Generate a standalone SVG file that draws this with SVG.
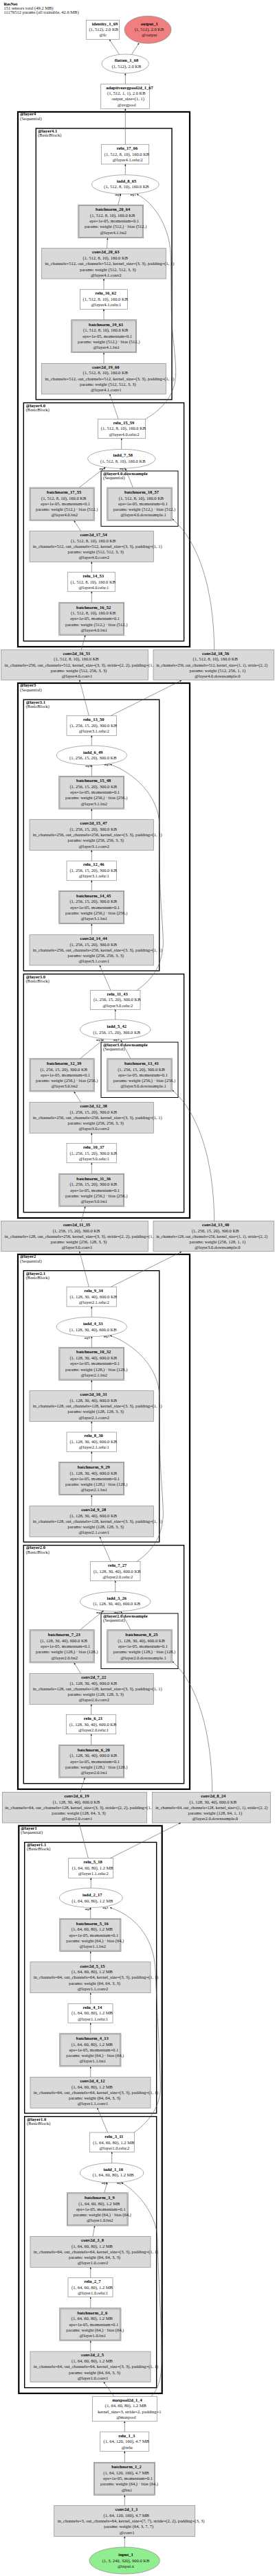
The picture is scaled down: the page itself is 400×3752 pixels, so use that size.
<svg xmlns="http://www.w3.org/2000/svg" width="400" height="3752" viewBox="0 0 400 3752">
<style>
text{font-family:"Liberation Serif","Times New Roman",serif;font-size:6.5px;fill:#111}
.m{text-anchor:middle}
.b{font-weight:bold;fill:#000}
.w{fill:#fff;stroke:#8a8a8a;stroke-width:.7}
.g{fill:#d9d9d9;stroke:#8a8a8a;stroke-width:.7}
.i{fill:none;stroke:#8a8a8a;stroke-width:.7}
.c1{fill:none;stroke:#000;stroke-width:2.2}
.c2{fill:none;stroke:#000;stroke-width:1.4}
.c3{fill:none;stroke:#000;stroke-width:1}
#edges path{fill:none;stroke:#555;stroke-width:.6;marker-end:url(#ah)}
.a{font-size:3.6px;font-weight:bold;text-anchor:middle}
.nar{font-size:5.6px}
</style>
<defs>
<marker id="ah" viewBox="0 0 10 10" refX="10" refY="5" markerWidth="3" markerHeight="2.4" markerUnits="userSpaceOnUse" orient="auto"><path d="M0,0L10,5L0,10z" fill="#111"/></marker>
</defs>
<rect width="400" height="3752" fill="#fff"/>
<g id="title">
<text class="b" x="5.5" y="7.9">ResNet</text>
<text x="5.5" y="13.9">151 tensors total (49.2 MB)</text>
<text x="5.5" y="19.9">11176512 params (all trainable, 42.6 MB)</text>
</g>
<g id="clusters">
<g id="cl_layer4"><rect class="c1" x="26" y="163" width="250" height="779"/><text class="b" x="29" y="168.2">@layer4</text><text x="29" y="174.5">(Sequential)</text></g>
<g id="cl_layer4_1"><rect class="c2" x="52.3" y="187" width="197.7" height="395"/><text class="b" x="55" y="192.5">@layer4.1</text><text x="55" y="198.9">(BasicBlock)</text></g>
<g id="cl_layer4_0"><rect class="c2" x="34.3" y="586.7" width="233.3" height="347"/><text class="b" x="37.7" y="592.9">@layer4.0</text><text x="37.7" y="598.9">(BasicBlock)</text></g>
<g id="cl_layer4_0_ds"><rect class="c3" x="147" y="686" width="112" height="80.5"/><text class="b" x="150" y="692.2">@layer4.0.downsample</text><text x="150" y="698.2">(Sequential)</text></g>
<g id="cl_layer3"><rect class="c1" x="26" y="995" width="250" height="779"/><text class="b" x="29" y="1000.2">@layer3</text><text x="29" y="1006.5">(Sequential)</text></g>
<g id="cl_layer3_1"><rect class="c2" x="34.3" y="1019" width="197.4" height="395"/><text class="b" x="37.7" y="1024.5">@layer3.1</text><text x="37.7" y="1030.9">(BasicBlock)</text></g>
<g id="cl_layer3_0"><rect class="c2" x="34.3" y="1418.7" width="233.3" height="347"/><text class="b" x="37.7" y="1424.5">@layer3.0</text><text x="37.7" y="1430.5">(BasicBlock)</text></g>
<g id="cl_layer3_0_ds"><rect class="c3" x="147" y="1518" width="112" height="80.5"/><text class="b" x="150" y="1524.2">@layer3.0.downsample</text><text x="150" y="1530.2">(Sequential)</text></g>
<g id="cl_layer2"><rect class="c1" x="26" y="1827" width="250" height="779"/><text class="b" x="29" y="1832.2">@layer2</text><text x="29" y="1838.5">(Sequential)</text></g>
<g id="cl_layer2_1"><rect class="c2" x="34.3" y="1850.7" width="197.4" height="395.3"/><text class="b" x="37.7" y="1856.5">@layer2.1</text><text x="37.7" y="1862.7">(BasicBlock)</text></g>
<g id="cl_layer2_0"><rect class="c2" x="34.3" y="2250.7" width="233.3" height="347"/><text class="b" x="37.7" y="2256.2">@layer2.0</text><text x="37.7" y="2262.5">(BasicBlock)</text></g>
<g id="cl_layer2_0_ds"><rect class="c3" x="147" y="2350" width="112" height="80.5"/><text class="b" x="150" y="2356.2">@layer2.0.downsample</text><text x="150" y="2362.2">(Sequential)</text></g>
<g id="cl_layer1"><rect class="c1" x="27.3" y="2659.3" width="208.4" height="826.7"/><text class="b" x="30.3" y="2664.9">@layer1</text><text x="30.3" y="2671.2">(Sequential)</text></g>
<g id="cl_layer1_1"><rect class="c2" x="35.7" y="2683.4" width="192" height="394.6"/><text class="b" x="39" y="2689.2">@layer1.1</text><text x="39" y="2695.2">(BasicBlock)</text></g>
<g id="cl_layer1_0"><rect class="c2" x="35.7" y="3082.7" width="192" height="395"/><text class="b" x="39" y="3088.5">@layer1.0</text><text x="39" y="3094.5">(BasicBlock)</text></g>
</g>
<g id="nodes">
<g id="identity_1_69"><rect class="w" x="125.3" y="29.3" width="48.4" height="28"/><text class="m b" x="152.5" y="36.5">identity_1_69</text><text class="m" x="150.7" y="44.9">(1, 512), 2.0 KB</text><text class="m" x="149.7" y="53.2">@fc</text></g>
<g id="output_1"><ellipse cx="215" cy="43.3" rx="34" ry="20" fill="#f08080" stroke="#8a8a8a" stroke-width=".7"/><text class="m b" x="217.3" y="36.5">output_1</text><text class="m" x="217" y="44.9">(1, 512), 2.0 KB</text><text class="m" x="217.2" y="53.2">@output</text></g>
<g id="flatten_1_68"><ellipse class="w" cx="182.2" cy="92.8" rx="34.2" ry="13.8"/><text class="m b" x="184" y="89.9">flatten_1_68</text><text class="m" x="184" y="98.5">(1, 512), 2.0 KB</text></g>
<g id="adaptiveavgpool2d_1_67"><rect class="w" x="146.7" y="122.3" width="70.6" height="36"/><text class="m b" x="188.5" y="129.5">adaptiveavgpool2d_1_67</text><text class="m" x="183.8" y="137.9">(1, 512, 1, 1), 2.0 KB</text><text class="m" x="186" y="146.2">output_size=(1, 1)</text><text class="m" x="184.3" y="154.5">@avgpool</text></g>

<g id="relu_17_66"><rect class="w" x="147.3" y="210.3" width="69.4" height="28.7"/><text class="m b" x="185" y="217.9">relu_17_66</text><text class="m" x="184.5" y="226.5">(1, 512, 8, 10), 160.0 KB</text><text class="m" x="185.5" y="234.9">@layer4.1.relu:2</text></g>
<g id="iadd_8_65"><ellipse class="w" cx="182.3" cy="268.7" rx="49" ry="14"/><text class="m b" x="184" y="265.5">iadd_8_65</text><text class="m" x="184" y="274.2">(1, 512, 8, 10), 160.0 KB</text></g>
<g id="batchnorm_20_64"><rect class="g" x="113.7" y="298.3" width="95" height="48.4"/><rect class="i" x="115" y="299.6" width="92.4" height="45.8"/><text class="m b" x="164.2" y="307.2">batchnorm_20_64</text><text class="m" x="163.7" y="315.5">(1, 512, 8, 10), 160.0 KB</text><text class="m" x="166.2" y="323.9">eps=1e-05, momentum=0.1</text><text class="m" x="168.2" y="332.2">params: weight (512,) · bias (512,)</text><text class="m" x="164.7" y="340.5">@layer4.1.bn2</text></g>
<g id="conv2d_20_63"><rect class="g" x="60.3" y="361.7" width="181" height="44.3"/><text class="m b" x="153.8" y="368.9">conv2d_20_63</text><text class="m" x="153.3" y="377.7">(1, 512, 8, 10), 160.0 KB</text><text x="65.5" y="386.2">in_channels=512, out_channels=512, kernel_size=(3, 3), padding=(1, 1)</text><text class="m" x="156.8" y="394.5">params: weight (512, 512, 3, 3)</text><text class="m" x="154.3" y="402.5">@layer4.1.conv2</text></g>
<g id="relu_16_62"><rect class="w" x="116.3" y="421.7" width="69" height="28.6"/><text class="m b" x="153.8" y="429.2">relu_16_62</text><text class="m" x="153.3" y="437.9">(1, 512, 8, 10), 160.0 KB</text><text class="m" x="154.3" y="446.2">@layer4.1.relu:1</text></g>
<g id="batchnorm_19_61"><rect class="g" x="103.7" y="465.7" width="95" height="48"/><rect class="i" x="105" y="467" width="92.4" height="45.4"/><text class="m b" x="154.2" y="474.5">batchnorm_19_61</text><text class="m" x="153.7" y="483.2">(1, 512, 8, 10), 160.0 KB</text><text class="m" x="156.2" y="491.5">eps=1e-05, momentum=0.1</text><text class="m" x="158.2" y="499.5">params: weight (512,) · bias (512,)</text><text class="m" x="154.7" y="507.9">@layer4.1.bn1</text></g>
<g id="conv2d_19_60"><rect class="g" x="60.3" y="529.3" width="181" height="44.7"/><text class="m b" x="153.8" y="536.5">conv2d_19_60</text><text class="m" x="153.3" y="545.2">(1, 512, 8, 10), 160.0 KB</text><text x="65.5" y="553.5">in_channels=512, out_channels=512, kernel_size=(3, 3), padding=(1, 1)</text><text class="m" x="156.8" y="561.5">params: weight (512, 512, 3, 3)</text><text class="m" x="154.3" y="569.9">@layer4.1.conv1</text></g>

<g id="relu_15_59"><rect class="w" x="142.3" y="610.3" width="69.4" height="28"/><text class="m b" x="180" y="617.5">relu_15_59</text><text class="m" x="179.5" y="626.2">(1, 512, 8, 10), 160.0 KB</text><text class="m" x="180.5" y="634.5">@layer4.0.relu:2</text></g>
<g id="iadd_7_58"><ellipse class="w" cx="176.8" cy="668.3" rx="49.2" ry="14"/><text class="m b" x="178.8" y="665.2">iadd_7_58</text><text class="m" x="178.8" y="673.9">(1, 512, 8, 10), 160.0 KB</text></g>
<g id="batchnorm_17_55"><rect class="g" x="43" y="710" width="94.3" height="48.3"/><rect class="i" x="44.3" y="711.3" width="91.7" height="45.7"/><text class="m b" x="93.2" y="718.9">batchnorm_17_55</text><text class="m" x="92.7" y="727.5">(1, 512, 8, 10), 160.0 KB</text><text class="m" x="95.2" y="735.9">eps=1e-05, momentum=0.1</text><text class="m" x="97.2" y="743.9">params: weight (512,) · bias (512,)</text><text class="m" x="93.7" y="752.2">@layer4.0.bn2</text></g>
<g id="batchnorm_18_57"><rect class="g" x="155.7" y="710" width="94.6" height="48.3"/><rect class="i" x="157" y="711.3" width="92" height="45.7"/><text class="m b" x="206" y="718.9">batchnorm_18_57</text><text class="m" x="205.5" y="727.5">(1, 512, 8, 10), 160.0 KB</text><text class="m" x="208" y="735.9">eps=1e-05, momentum=0.1</text><text class="m" x="210" y="743.9">params: weight (512,) · bias (512,)</text><text class="m" x="208.5" y="752.2">@layer4.0.downsample.1</text></g>
<g id="conv2d_17_54"><rect class="g" x="43" y="773.3" width="180.3" height="45"/><text class="m b" x="136.2" y="780.9">conv2d_17_54</text><text class="m" x="135.7" y="789.5">(1, 512, 8, 10), 160.0 KB</text><text x="47.7" y="797.9">in_channels=512, out_channels=512, kernel_size=(3, 3), padding=(1, 1)</text><text class="m" x="139.2" y="805.9">params: weight (512, 512, 3, 3)</text><text class="m" x="136.7" y="814.2">@layer4.0.conv2</text></g>
<g id="relu_14_53"><rect class="w" x="98.3" y="833.3" width="69" height="28.4"/><text class="m b" x="135.8" y="840.9">relu_14_53</text><text class="m" x="135.3" y="849.5">(1, 512, 8, 10), 160.0 KB</text><text class="m" x="136.3" y="857.9">@layer4.0.relu:1</text></g>
<g id="batchnorm_16_52"><rect class="g" x="85.7" y="877.3" width="95" height="48"/><rect class="i" x="87" y="878.6" width="92.4" height="45.4"/><text class="m b" x="136.2" y="886.5">batchnorm_16_52</text><text class="m" x="135.7" y="894.9">(1, 512, 8, 10), 160.0 KB</text><text class="m" x="138.2" y="903.2">eps=1e-05, momentum=0.1</text><text class="m" x="140.2" y="911.5">params: weight (512,) · bias (512,)</text><text class="m" x="136.7" y="919.9">@layer4.0.bn1</text></g>
<g id="conv2d_16_51"><rect class="g" x="1.7" y="946.3" width="213.6" height="44"/><text class="m b" x="111.5" y="953.5">conv2d_16_51</text><text class="m" x="111" y="962.2">(1, 512, 8, 10), 160.0 KB</text><text x="6.7" y="970.5">in_channels=256, out_channels=512, kernel_size=(3, 3), stride=(2, 2), padding=(1, 1)</text><text class="m" x="114.5" y="978.5">params: weight (512, 256, 3, 3)</text><text class="m" x="112" y="986.9">@layer4.0.conv1</text></g>
<g id="conv2d_18_56"><rect class="g" x="223" y="946.3" width="175.3" height="44"/><text class="m b" x="313.7" y="953.5">conv2d_18_56</text><text class="m" x="313.2" y="962.2">(1, 512, 8, 10), 160.0 KB</text><text class="nar" x="227.2" y="970.5" textLength="162" lengthAdjust="spacingAndGlyphs">in_channels=256, out_channels=512, kernel_size=(1, 1), stride=(2, 2)</text><text class="m" x="316.3" y="978.5">params: weight (512, 256, 1, 1)</text><text class="m" x="316.2" y="986.9">@layer4.0.downsample.0</text></g>

<g id="relu_13_50"><rect class="w" x="97" y="1042.3" width="72.3" height="29"/><text class="m b" x="136.2" y="1049.9">relu_13_50</text><text class="m" x="135.7" y="1058.5">(1, 256, 15, 20), 300.0 KB</text><text class="m" x="136.7" y="1066.9">@layer3.1.relu:2</text></g>
<g id="iadd_6_49"><ellipse class="w" cx="133.3" cy="1100.2" rx="51.3" ry="14.2"/><text class="m b" x="135.3" y="1097.5">iadd_6_49</text><text class="m" x="135.3" y="1106.2">(1, 256, 15, 20), 300.0 KB</text></g>
<g id="batchnorm_15_48"><rect class="g" x="85.7" y="1130.3" width="95" height="48"/><rect class="i" x="87" y="1131.6" width="92.4" height="45.4"/><text class="m b" x="136.2" y="1139.2">batchnorm_15_48</text><text class="m" x="135.7" y="1147.5">(1, 256, 15, 20), 300.0 KB</text><text class="m" x="138.2" y="1155.9">eps=1e-05, momentum=0.1</text><text class="m" x="140.2" y="1164.2">params: weight (256,) · bias (256,)</text><text class="m" x="136.7" y="1172.5">@layer3.1.bn2</text></g>
<g id="conv2d_15_47"><rect class="g" x="43" y="1193.7" width="180.3" height="44.6"/><text class="m b" x="136.2" y="1201.2">conv2d_15_47</text><text class="m" x="135.7" y="1209.9">(1, 256, 15, 20), 300.0 KB</text><text x="47.7" y="1218.2">in_channels=256, out_channels=256, kernel_size=(3, 3), padding=(1, 1)</text><text class="m" x="139.2" y="1226.2">params: weight (256, 256, 3, 3)</text><text class="m" x="136.7" y="1234.5">@layer3.1.conv2</text></g>
<g id="relu_12_46"><rect class="w" x="97" y="1254" width="72.3" height="28.3"/><text class="m b" x="136.2" y="1261.2">relu_12_46</text><text class="m" x="135.7" y="1269.9">(1, 256, 15, 20), 300.0 KB</text><text class="m" x="136.7" y="1278.2">@layer3.1.relu:1</text></g>
<g id="batchnorm_14_45"><rect class="g" x="85.7" y="1297.3" width="95" height="48.4"/><rect class="i" x="87" y="1298.6" width="92.4" height="45.8"/><text class="m b" x="136.2" y="1306.9">batchnorm_14_45</text><text class="m" x="135.7" y="1315.2">(1, 256, 15, 20), 300.0 KB</text><text class="m" x="138.2" y="1323.5">eps=1e-05, momentum=0.1</text><text class="m" x="140.2" y="1331.9">params: weight (256,) · bias (256,)</text><text class="m" x="136.7" y="1340.2">@layer3.1.bn1</text></g>
<g id="conv2d_14_44"><rect class="g" x="43" y="1361.3" width="180.3" height="44.7"/><text class="m b" x="136.2" y="1368.9">conv2d_14_44</text><text class="m" x="135.7" y="1377.5">(1, 256, 15, 20), 300.0 KB</text><text x="47.7" y="1385.5">in_channels=256, out_channels=256, kernel_size=(3, 3), padding=(1, 1)</text><text class="m" x="139.2" y="1393.9">params: weight (256, 256, 3, 3)</text><text class="m" x="136.7" y="1401.9">@layer3.1.conv1</text></g>

<g id="relu_11_43"><rect class="w" x="131.3" y="1442.3" width="72.7" height="28"/><text class="m b" x="170.7" y="1449.5">relu_11_43</text><text class="m" x="170.2" y="1458.2">(1, 256, 15, 20), 300.0 KB</text><text class="m" x="171.2" y="1466.5">@layer3.0.relu:2</text></g>
<g id="iadd_5_42"><ellipse class="w" cx="167.7" cy="1499.5" rx="51.3" ry="14.5"/><text class="m b" x="169.7" y="1497.2">iadd_5_42</text><text class="m" x="169.7" y="1505.9">(1, 256, 15, 20), 300.0 KB</text></g>
<g id="batchnorm_12_39"><rect class="g" x="43" y="1541.7" width="94.3" height="48.3"/><rect class="i" x="44.3" y="1543" width="91.7" height="45.7"/><text class="m b" x="93.2" y="1550.9">batchnorm_12_39</text><text class="m" x="92.7" y="1559.5">(1, 256, 15, 20), 300.0 KB</text><text class="m" x="95.2" y="1567.9">eps=1e-05, momentum=0.1</text><text class="m" x="97.2" y="1575.9">params: weight (256,) · bias (256,)</text><text class="m" x="93.7" y="1584.2">@layer3.0.bn2</text></g>
<g id="batchnorm_13_41"><rect class="g" x="155.7" y="1541.7" width="94.6" height="48.3"/><rect class="i" x="157" y="1543" width="92" height="45.7"/><text class="m b" x="206" y="1550.9">batchnorm_13_41</text><text class="m" x="205.5" y="1559.5">(1, 256, 15, 20), 300.0 KB</text><text class="m" x="208" y="1567.9">eps=1e-05, momentum=0.1</text><text class="m" x="210" y="1575.9">params: weight (256,) · bias (256,)</text><text class="m" x="208.5" y="1584.2">@layer3.0.downsample.1</text></g>
<g id="conv2d_12_38"><rect class="g" x="43" y="1605.3" width="180.3" height="45"/><text class="m b" x="136.2" y="1612.9">conv2d_12_38</text><text class="m" x="135.7" y="1621.5">(1, 256, 15, 20), 300.0 KB</text><text x="47.7" y="1629.9">in_channels=256, out_channels=256, kernel_size=(3, 3), padding=(1, 1)</text><text class="m" x="139.2" y="1637.9">params: weight (256, 256, 3, 3)</text><text class="m" x="136.7" y="1646.2">@layer3.0.conv2</text></g>
<g id="relu_10_37"><rect class="w" x="97" y="1665.3" width="72.3" height="28.4"/><text class="m b" x="136.2" y="1673.2">relu_10_37</text><text class="m" x="135.7" y="1681.5">(1, 256, 15, 20), 300.0 KB</text><text class="m" x="136.7" y="1689.9">@layer3.0.relu:1</text></g>
<g id="batchnorm_11_36"><rect class="g" x="85.7" y="1709.3" width="95" height="48"/><rect class="i" x="87" y="1710.6" width="92.4" height="45.4"/><text class="m b" x="136.2" y="1718.5">batchnorm_11_36</text><text class="m" x="135.7" y="1727.2">(1, 256, 15, 20), 300.0 KB</text><text class="m" x="138.2" y="1735.5">eps=1e-05, momentum=0.1</text><text class="m" x="140.2" y="1743.5">params: weight (256,) · bias (256,)</text><text class="m" x="136.7" y="1751.9">@layer3.0.bn1</text></g>
<g id="conv2d_11_35"><rect class="g" x="1.7" y="1778.3" width="213.6" height="44.4"/><text class="m b" x="111.5" y="1785.9">conv2d_11_35</text><text class="m" x="111" y="1794.5">(1, 256, 15, 20), 300.0 KB</text><text x="6.7" y="1802.5">in_channels=128, out_channels=256, kernel_size=(3, 3), stride=(2, 2), padding=(1, 1)</text><text class="m" x="114.5" y="1810.9">params: weight (256, 128, 3, 3)</text><text class="m" x="112" y="1818.9">@layer3.0.conv1</text></g>
<g id="conv2d_13_40"><rect class="g" x="223" y="1778.3" width="175.3" height="44.4"/><text class="m b" x="313.7" y="1785.9">conv2d_13_40</text><text class="m" x="313.2" y="1794.5">(1, 256, 15, 20), 300.0 KB</text><text class="nar" x="227.2" y="1802.5" textLength="162" lengthAdjust="spacingAndGlyphs">in_channels=128, out_channels=256, kernel_size=(1, 1), stride=(2, 2)</text><text class="m" x="316.3" y="1810.9">params: weight (256, 128, 1, 1)</text><text class="m" x="316.2" y="1818.9">@layer3.0.downsample.0</text></g>

<g id="relu_9_34"><rect class="w" x="97" y="1874.3" width="72.3" height="28.7"/><text class="m b" x="136.2" y="1881.9">relu_9_34</text><text class="m" x="135.7" y="1890.5">(1, 128, 30, 40), 600.0 KB</text><text class="m" x="136.7" y="1898.9">@layer2.1.relu:2</text></g>
<g id="iadd_4_33"><ellipse class="w" cx="133.3" cy="1932.5" rx="51.3" ry="14.2"/><text class="m b" x="135.3" y="1929.9">iadd_4_33</text><text class="m" x="135.3" y="1938.5">(1, 128, 30, 40), 600.0 KB</text></g>
<g id="batchnorm_10_32"><rect class="g" x="85.7" y="1962.3" width="95" height="48"/><rect class="i" x="87" y="1963.6" width="92.4" height="45.4"/><text class="m b" x="136.2" y="1971.2">batchnorm_10_32</text><text class="m" x="135.7" y="1979.9">(1, 128, 30, 40), 600.0 KB</text><text class="m" x="138.2" y="1988.2">eps=1e-05, momentum=0.1</text><text class="m" x="140.2" y="1996.5">params: weight (128,) · bias (128,)</text><text class="m" x="136.7" y="2004.9">@layer2.1.bn2</text></g>
<g id="conv2d_10_31"><rect class="g" x="43" y="2025.7" width="180.3" height="44.6"/><text class="m b" x="136.2" y="2033.2">conv2d_10_31</text><text class="m" x="135.7" y="2041.9">(1, 128, 30, 40), 600.0 KB</text><text x="47.7" y="2050.2">in_channels=128, out_channels=128, kernel_size=(3, 3), padding=(1, 1)</text><text class="m" x="139.2" y="2058.2">params: weight (128, 128, 3, 3)</text><text class="m" x="136.7" y="2066.5">@layer2.1.conv2</text></g>
<g id="relu_8_30"><rect class="w" x="97" y="2086" width="72.3" height="28.3"/><text class="m b" x="136.2" y="2093.2">relu_8_30</text><text class="m" x="135.7" y="2101.9">(1, 128, 30, 40), 600.0 KB</text><text class="m" x="136.7" y="2110.2">@layer2.1.relu:1</text></g>
<g id="batchnorm_9_29"><rect class="g" x="85.7" y="2129.3" width="95" height="48.4"/><rect class="i" x="87" y="2130.6" width="92.4" height="45.8"/><text class="m b" x="136.2" y="2138.9">batchnorm_9_29</text><text class="m" x="135.7" y="2147.5">(1, 128, 30, 40), 600.0 KB</text><text class="m" x="138.2" y="2155.9">eps=1e-05, momentum=0.1</text><text class="m" x="140.2" y="2163.9">params: weight (128,) · bias (128,)</text><text class="m" x="136.7" y="2172.2">@layer2.1.bn1</text></g>
<g id="conv2d_9_28"><rect class="g" x="43" y="2193.3" width="180.3" height="45"/><text class="m b" x="136.2" y="2200.9">conv2d_9_28</text><text class="m" x="135.7" y="2209.5">(1, 128, 30, 40), 600.0 KB</text><text x="47.7" y="2217.9">in_channels=128, out_channels=128, kernel_size=(3, 3), padding=(1, 1)</text><text class="m" x="139.2" y="2225.9">params: weight (128, 128, 3, 3)</text><text class="m" x="136.7" y="2233.9">@layer2.1.conv1</text></g>

<g id="relu_7_27"><rect class="w" x="131.3" y="2274.3" width="72.7" height="28"/><text class="m b" x="170.7" y="2281.9">relu_7_27</text><text class="m" x="170.2" y="2290.5">(1, 128, 30, 40), 600.0 KB</text><text class="m" x="171.2" y="2298.9">@layer2.0.relu:2</text></g>
<g id="iadd_3_26"><ellipse class="w" cx="167.7" cy="2332.7" rx="51.3" ry="14.3"/><text class="m b" x="169.7" y="2329.5">iadd_3_26</text><text class="m" x="169.7" y="2338.2">(1, 128, 30, 40), 600.0 KB</text></g>
<g id="batchnorm_7_23"><rect class="g" x="43" y="2373.7" width="94.3" height="48.3"/><rect class="i" x="44.3" y="2375" width="91.7" height="45.7"/><text class="m b" x="93.2" y="2383.2">batchnorm_7_23</text><text class="m" x="92.7" y="2391.9">(1, 128, 30, 40), 600.0 KB</text><text class="m" x="95.2" y="2399.9">eps=1e-05, momentum=0.1</text><text class="m" x="97.2" y="2408.2">params: weight (128,) · bias (128,)</text><text class="m" x="93.7" y="2416.5">@layer2.0.bn2</text></g>
<g id="batchnorm_8_25"><rect class="g" x="155.7" y="2373.7" width="94.6" height="48.3"/><rect class="i" x="157" y="2375" width="92" height="45.7"/><text class="m b" x="206" y="2383.2">batchnorm_8_25</text><text class="m" x="205.5" y="2391.9">(1, 128, 30, 40), 600.0 KB</text><text class="m" x="208" y="2399.9">eps=1e-05, momentum=0.1</text><text class="m" x="210" y="2408.2">params: weight (128,) · bias (128,)</text><text class="m" x="208.5" y="2416.5">@layer2.0.downsample.1</text></g>
<g id="conv2d_7_22"><rect class="g" x="43" y="2437.3" width="180.3" height="45"/><text class="m b" x="136.2" y="2444.9">conv2d_7_22</text><text class="m" x="135.7" y="2453.5">(1, 128, 30, 40), 600.0 KB</text><text x="47.7" y="2461.9">in_channels=128, out_channels=128, kernel_size=(3, 3), padding=(1, 1)</text><text class="m" x="139.2" y="2469.9">params: weight (128, 128, 3, 3)</text><text class="m" x="136.7" y="2478.2">@layer2.0.conv2</text></g>
<g id="relu_6_21"><rect class="w" x="96.3" y="2497.3" width="72.4" height="28.4"/><text class="m b" x="135.5" y="2505.2">relu_6_21</text><text class="m" x="135" y="2513.9">(1, 128, 30, 40), 600.0 KB</text><text class="m" x="136" y="2521.9">@layer2.0.relu:1</text></g>
<g id="batchnorm_6_20"><rect class="g" x="85.7" y="2541.3" width="95" height="48"/><rect class="i" x="87" y="2542.6" width="92.4" height="45.4"/><text class="m b" x="136.2" y="2550.5">batchnorm_6_20</text><text class="m" x="135.7" y="2559.2">(1, 128, 30, 40), 600.0 KB</text><text class="m" x="138.2" y="2567.5">eps=1e-05, momentum=0.1</text><text class="m" x="140.2" y="2575.5">params: weight (128,) · bias (128,)</text><text class="m" x="136.7" y="2583.9">@layer2.0.bn1</text></g>
<g id="conv2d_6_19"><rect class="g" x="3.3" y="2610.3" width="210.4" height="44.7"/><text class="m b" x="111.5" y="2617.9">conv2d_6_19</text><text class="m" x="111" y="2626.5">(1, 128, 30, 40), 600.0 KB</text><text x="7.3" y="2634.5">in_channels=64, out_channels=128, kernel_size=(3, 3), stride=(2, 2), padding=(1, 1)</text><text class="m" x="114.5" y="2642.9">params: weight (128, 64, 3, 3)</text><text class="m" x="112" y="2651.2">@layer2.0.conv1</text></g>
<g id="conv2d_8_24"><rect class="g" x="221.3" y="2610.3" width="172" height="44.7"/><text class="m b" x="310.3" y="2617.9">conv2d_8_24</text><text class="m" x="309.8" y="2626.5">(1, 128, 30, 40), 600.0 KB</text><text class="nar" x="226.2" y="2634.5" textLength="163" lengthAdjust="spacingAndGlyphs">in_channels=64, out_channels=128, kernel_size=(1, 1), stride=(2, 2)</text><text class="m" x="312.9" y="2642.9">params: weight (128, 64, 1, 1)</text><text class="m" x="312.8" y="2651.2">@layer2.0.downsample.0</text></g>

<g id="relu_5_18"><rect class="w" x="99.7" y="2706.3" width="65" height="29"/><text class="m b" x="135.2" y="2714.2">relu_5_18</text><text class="m" x="134.7" y="2722.9">(1, 64, 60, 80), 1.2 MB</text><text class="m" x="135.7" y="2731.2">@layer1.1.relu:2</text></g>
<g id="iadd_2_17"><ellipse class="w" cx="132.3" cy="2764.2" rx="46" ry="14.2"/><text class="m b" x="134.3" y="2761.9">iadd_2_17</text><text class="m" x="134.3" y="2770.5">(1, 64, 60, 80), 1.2 MB</text></g>
<g id="batchnorm_5_16"><rect class="g" x="86.7" y="2794.3" width="89.3" height="48"/><rect class="i" x="88" y="2795.6" width="86.7" height="45.4"/><text class="m b" x="134.3" y="2803.5">batchnorm_5_16</text><text class="m" x="133.8" y="2812.2">(1, 64, 60, 80), 1.2 MB</text><text class="m" x="136.3" y="2820.5">eps=1e-05, momentum=0.1</text><text class="m" x="138.3" y="2828.5">params: weight (64,) · bias (64,)</text><text class="m" x="134.8" y="2836.9">@layer1.1.bn2</text></g>
<g id="conv2d_5_15"><rect class="g" x="44" y="2857.7" width="175" height="45"/><text class="m b" x="134.5" y="2865.5">conv2d_5_15</text><text class="m" x="134" y="2874.2">(1, 64, 60, 80), 1.2 MB</text><text x="48.7" y="2882.2">in_channels=64, out_channels=64, kernel_size=(3, 3), padding=(1, 1)</text><text class="m" x="137.5" y="2890.5">params: weight (64, 64, 3, 3)</text><text class="m" x="135" y="2898.9">@layer1.1.conv2</text></g>
<g id="relu_4_14"><rect class="w" x="99" y="2918.3" width="65" height="28"/><text class="m b" x="134.5" y="2925.5">relu_4_14</text><text class="m" x="134" y="2934.2">(1, 64, 60, 80), 1.2 MB</text><text class="m" x="135" y="2942.5">@layer1.1.relu:1</text></g>
<g id="batchnorm_4_13"><rect class="g" x="86.7" y="2961.7" width="89.3" height="48.3"/><rect class="i" x="88" y="2963" width="86.7" height="45.7"/><text class="m b" x="134.3" y="2971.2">batchnorm_4_13</text><text class="m" x="133.8" y="2979.5">(1, 64, 60, 80), 1.2 MB</text><text class="m" x="136.3" y="2987.9">eps=1e-05, momentum=0.1</text><text class="m" x="138.3" y="2995.9">params: weight (64,) · bias (64,)</text><text class="m" x="134.8" y="3004.2">@layer1.1.bn1</text></g>
<g id="conv2d_4_12"><rect class="g" x="44" y="3025.3" width="175" height="45"/><text class="m b" x="134.5" y="3032.9">conv2d_4_12</text><text class="m" x="134" y="3041.5">(1, 64, 60, 80), 1.2 MB</text><text x="48.7" y="3049.9">in_channels=64, out_channels=64, kernel_size=(3, 3), padding=(1, 1)</text><text class="m" x="137.5" y="3057.9">params: weight (64, 64, 3, 3)</text><text class="m" x="135" y="3066.2">@layer1.1.conv1</text></g>

<g id="relu_3_11"><rect class="w" x="130.3" y="3106" width="65" height="28.3"/><text class="m b" x="165.8" y="3113.9">relu_3_11</text><text class="m" x="165.3" y="3122.5">(1, 64, 60, 80), 1.2 MB</text><text class="m" x="166.3" y="3130.9">@layer1.0.relu:2</text></g>
<g id="iadd_1_10"><ellipse class="w" cx="162.7" cy="3164.8" rx="46.3" ry="14.2"/><text class="m b" x="164.7" y="3161.5">iadd_1_10</text><text class="m" x="164.7" y="3170.2">(1, 64, 60, 80), 1.2 MB</text></g>
<g id="batchnorm_3_9"><rect class="g" x="97.3" y="3193.7" width="89" height="48.3"/><rect class="i" x="98.6" y="3195" width="86.4" height="45.7"/><text class="m b" x="144.8" y="3202.9">batchnorm_3_9</text><text class="m" x="144.3" y="3211.5">(1, 64, 60, 80), 1.2 MB</text><text class="m" x="146.8" y="3219.9">eps=1e-05, momentum=0.1</text><text class="m" x="148.8" y="3227.9">params: weight (64,) · bias (64,)</text><text class="m" x="145.3" y="3236.2">@layer1.0.bn2</text></g>
<g id="conv2d_3_8"><rect class="g" x="44" y="3257.3" width="175" height="45"/><text class="m b" x="134.5" y="3264.9">conv2d_3_8</text><text class="m" x="134" y="3273.5">(1, 64, 60, 80), 1.2 MB</text><text x="48.7" y="3281.9">in_channels=64, out_channels=64, kernel_size=(3, 3), padding=(1, 1)</text><text class="m" x="137.5" y="3289.9">params: weight (64, 64, 3, 3)</text><text class="m" x="135" y="3298.2">@layer1.0.conv2</text></g>
<g id="relu_2_7"><rect class="w" x="99" y="3317.7" width="65" height="28"/><text class="m b" x="134.5" y="3324.9">relu_2_7</text><text class="m" x="134" y="3333.5">(1, 64, 60, 80), 1.2 MB</text><text class="m" x="135" y="3341.9">@layer1.0.relu:1</text></g>
<g id="batchnorm_2_6"><rect class="g" x="86.7" y="3361.7" width="89.3" height="47.6"/><rect class="i" x="88" y="3363" width="86.7" height="45"/><text class="m b" x="134.3" y="3370.5">batchnorm_2_6</text><text class="m" x="133.8" y="3379.2">(1, 64, 60, 80), 1.2 MB</text><text class="m" x="136.3" y="3387.5">eps=1e-05, momentum=0.1</text><text class="m" x="138.3" y="3395.5">params: weight (64,) · bias (64,)</text><text class="m" x="134.8" y="3403.9">@layer1.0.bn1</text></g>
<g id="conv2d_2_5"><rect class="g" x="44" y="3425" width="175" height="44.3"/><text class="m b" x="134.5" y="3432.2">conv2d_2_5</text><text class="m" x="134" y="3440.9">(1, 64, 60, 80), 1.2 MB</text><text x="48.7" y="3449.2">in_channels=64, out_channels=64, kernel_size=(3, 3), padding=(1, 1)</text><text class="m" x="137.5" y="3457.5">params: weight (64, 64, 3, 3)</text><text class="m" x="135" y="3465.5">@layer1.0.conv1</text></g>

<g id="maxpool2d_1_4"><rect class="w" x="134.3" y="3490.3" width="94" height="36.4"/><text class="m b" x="185" y="3497.5">maxpool2d_1_4</text><text class="m" x="182.8" y="3506.2">(1, 64, 60, 80), 1.2 MB</text><text class="m" x="188.3" y="3514.5">kernel_size=3, stride=2, padding=1</text><text class="m" x="183.5" y="3522.9">@maxpool</text></g>
<g id="relu_1_3"><rect class="w" x="145.7" y="3542" width="71" height="28.3"/><text class="m b" x="184.2" y="3549.5">relu_1_3</text><text class="m" x="183.7" y="3558.2">(1, 64, 120, 160), 4.7 MB</text><text class="m" x="184.7" y="3566.5">@relu</text></g>
<g id="batchnorm_1_2"><rect class="g" x="136.3" y="3586.3" width="89.4" height="48"/><rect class="i" x="137.6" y="3587.6" width="86.8" height="45.4"/><text class="m b" x="184" y="3595.2">batchnorm_1_2</text><text class="m" x="183.5" y="3603.9">(1, 64, 120, 160), 4.7 MB</text><text class="m" x="186" y="3612.2">eps=1e-05, momentum=0.1</text><text class="m" x="188" y="3620.2">params: weight (64,) · bias (64,)</text><text class="m" x="184.5" y="3628.5">@bn1</text></g>
<g id="conv2d_1_1"><rect class="g" x="78.7" y="3649.3" width="205" height="45"/><text class="m b" x="184.2" y="3657.2">conv2d_1_1</text><text class="m" x="183.7" y="3665.5">(1, 64, 120, 160), 4.7 MB</text><text x="83.7" y="3673.9">in_channels=3, out_channels=64, kernel_size=(7, 7), stride=(2, 2), padding=(3, 3)</text><text class="m" x="187.2" y="3682.2">params: weight (64, 3, 7, 7)</text><text class="m" x="184.7" y="3690.5">@conv1</text></g>
<g id="input_1"><ellipse cx="181.2" cy="3729.5" rx="51.2" ry="19.5" fill="#90ee90" stroke="#8a8a8a" stroke-width=".7"/><text class="m b" x="183" y="3723.2">input_1</text><text class="m" x="183" y="3731.5">(1, 3, 240, 320), 900.0 KB</text><text class="m" x="183" y="3739.9">@input.x</text></g>
</g>
<g id="edges">
<path d="M173.3,79L159.3,57.7"/>
<path d="M191.7,79L202.3,62.7"/>
<path d="M182.3,122.3L182.3,106.8"/>
<path d="M182.3,210.3L182.3,158.3"/>
<path d="M182.3,254.7L182.3,239"/>
<path d="M171.7,298.3L175.7,282.7"/>
<path d="M155.5,361.7L156.5,346.7"/>
<path d="M151,421.7L151,406"/>
<path d="M151,465.7L151,450.3"/>
<path d="M151,529.3L151,513.7"/>
<path d="M172,610.3L159.7,574"/>
<path d="M211.7,610.3C236,596 255.7,575 255.7,543.3C255.7,515 250,490 249.2,450L248.5,375C248,335 228,298 199,282.7"/>
<path d="M176.7,654.3L176.7,638.3"/>
<path d="M115.3,710L153.3,680.5"/>
<path d="M193.3,710L182.3,682.3"/>
<path d="M117.3,773.3L107.7,758.3"/>
<path d="M133.3,833.3L133.3,818.3"/>
<path d="M133.3,877.3L133.3,861.7"/>
<path d="M118.3,946.3L124,925.3"/>
<path d="M311.7,946.3C311,860 290,790 251,756"/>
<path d="M129.3,1042.3L115.7,990.3"/>
<path d="M161.3,1042.3L264,991"/>
<path d="M133.3,1086L133.3,1071.3"/>
<path d="M133.3,1130.3L133.3,1114.4"/>
<path d="M133.3,1193.7L133.3,1178.3"/>
<path d="M133.3,1254L133.3,1238.3"/>
<path d="M133.3,1297.3L133.3,1282.3"/>
<path d="M133.3,1361.3L133.3,1345.7"/>
<path d="M161,1442.3L145,1406"/>
<path d="M199,1442.3C225,1425 238,1400 237.3,1370C236.5,1340 232,1300 232,1250L231.7,1200C231,1160 195,1125 160,1113.3"/>
<path d="M167.7,1485L167.7,1470.3"/>
<path d="M116.7,1541.7L150.7,1514"/>
<path d="M190,1541.7L175.7,1515"/>
<path d="M117.3,1605.3L107.7,1590"/>
<path d="M133.3,1665.3L133.3,1650.3"/>
<path d="M133.3,1709.3L133.3,1693.7"/>
<path d="M118.3,1778.3L124,1757.3"/>
<path d="M311.7,1778.3C311,1692 290,1622 251,1588"/>
<path d="M129.3,1874.3L115.7,1822.7"/>
<path d="M161.3,1874.3L264,1823.3"/>
<path d="M133.3,1918.3L133.3,1903"/>
<path d="M133.3,1962.3L133.3,1946.7"/>
<path d="M133.3,2025.7L133.3,2010.3"/>
<path d="M133.3,2086L133.3,2070.3"/>
<path d="M133.3,2129.3L133.3,2114.3"/>
<path d="M133.3,2193.3L133.3,2177.7"/>
<path d="M161,2274.3L145,2238.3"/>
<path d="M199,2274.3C225,2257 238,2232 237.3,2202C236.5,2172 232,2132 232,2082L231.7,2032C231,1992 195,1957 160,1945.3"/>
<path d="M167.7,2318.4L167.7,2302.3"/>
<path d="M116.7,2373.7L150.7,2346"/>
<path d="M190,2373.7L175.7,2347"/>
<path d="M117.3,2437.3L107.7,2422"/>
<path d="M132.7,2497.3L132.7,2482.3"/>
<path d="M132.7,2541.3L132.7,2525.7"/>
<path d="M116.7,2610.3L123.3,2589.3"/>
<path d="M308.7,2610.3C308,2524 288,2454 251,2420"/>
<path d="M128.3,2706.3L115,2655"/>
<path d="M160.7,2706.3L262.7,2655"/>
<path d="M132.3,2750L132.3,2735.3"/>
<path d="M131.7,2794.3L131.7,2778.4"/>
<path d="M131.7,2857.7L131.7,2842.3"/>
<path d="M131.7,2918.3L131.7,2902.7"/>
<path d="M131.7,2961.7L131.7,2946.3"/>
<path d="M131.7,3025.3L131.7,3010"/>
<path d="M156.7,3106L141.7,3070.3"/>
<path d="M195,3106C220,3088 233.5,3065 233.3,3040C233,3000 228,2920 226,2870C224,2820 195,2790 160,2778.4"/>
<path d="M162.7,3150.6L162.7,3134.3"/>
<path d="M151.7,3193.7L156,3179"/>
<path d="M135,3257.3L137.7,3242"/>
<path d="M131.7,3317.7L131.7,3302.3"/>
<path d="M131.7,3361.7L131.7,3345.7"/>
<path d="M131.7,3425L131.7,3409.3"/>
<path d="M165.7,3490.3L150.7,3469.3"/>
<path d="M220,3490.3C232,3478 235.5,3460 235.3,3430C235,3380 230,3320 229,3260C228,3230 205,3195 176.7,3179"/>
<path d="M181.3,3542L181.3,3526.7"/>
<path d="M181.3,3586.3L181.3,3570.3"/>
<path d="M181.3,3649.3L181.3,3634.3"/>
<path d="M181.3,3710L181.3,3694.3"/>
</g>
<g id="edge_labels">
<text class="a" x="171.5" y="285.3">arg 0</text><text class="a" x="193.5" y="285">arg 1</text>
<text class="a" x="148.5" y="683.6">arg 0</text><text class="a" x="178" y="684.3">arg 1</text>
<text class="a" x="128.3" y="1117.3">arg 0</text><text class="a" x="155.7" y="1115.3">arg 1</text>
<text class="a" x="144" y="1516.3">arg 0</text><text class="a" x="169" y="1516.3">arg 1</text>
<text class="a" x="126.7" y="1950">arg 0</text><text class="a" x="155" y="1948">arg 1</text>
<text class="a" x="144" y="2349.6">arg 0</text><text class="a" x="170" y="2349.6">arg 1</text>
<text class="a" x="127.7" y="2782.3">arg 0</text><text class="a" x="153.3" y="2780">arg 1</text>
<text class="a" x="151.7" y="3181.3">arg 0</text><text class="a" x="174" y="3180.6">arg 1</text>
</g>
</svg>
